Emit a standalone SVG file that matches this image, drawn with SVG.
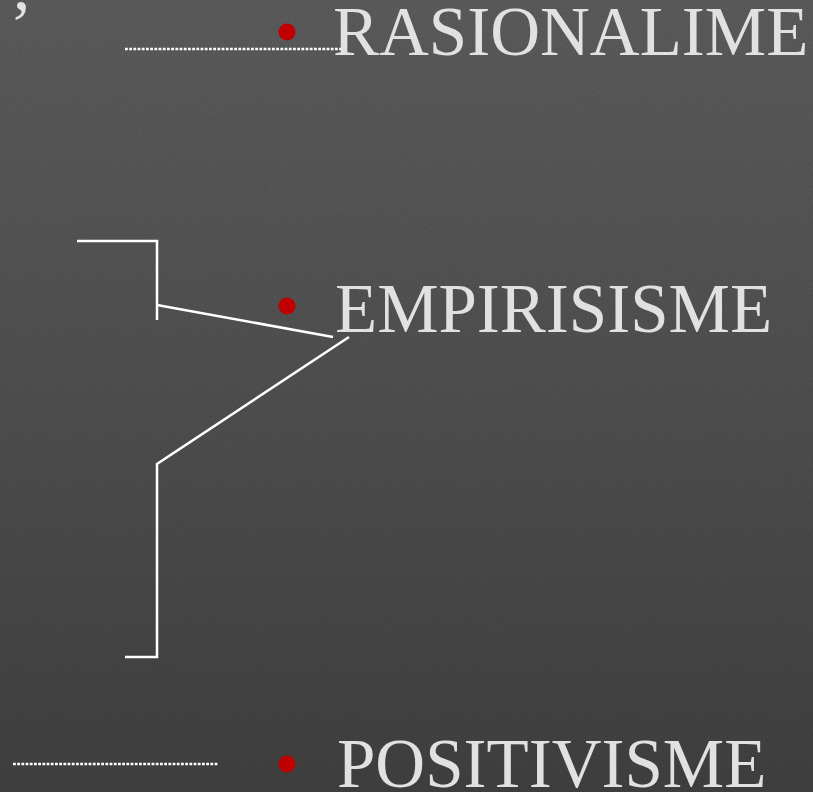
<svg xmlns="http://www.w3.org/2000/svg" width="813" height="792" viewBox="0 0 813 792">
  <defs>
    <linearGradient id="bg" x1="0" y1="0" x2="0" y2="1">
      <stop offset="0" stop-color="#5f5f5f"/>
      <stop offset="0.5" stop-color="#525252"/>
      <stop offset="1" stop-color="#424242"/>
    </linearGradient>
    <filter id="grain" x="0" y="0" width="100%" height="100%">
      <feTurbulence type="fractalNoise" baseFrequency="0.9 0.5" numOctaves="2" seed="3" result="n"/>
      <feColorMatrix in="n" type="matrix" values="0 0 0 0 0  0 0 0 0 0  0 0 0 0 0  0 0 0 0.14 0"/>
    </filter>
    <style>
      .label { font-family: "Liberation Serif", "Times New Roman", serif; font-size: 69px; fill: #e1e1e3; }
      .bullet { fill: #c00000; }
      .dotted { stroke: #ffffff; stroke-width: 2.5; stroke-dasharray: 2.8 1.4; fill: none; }
      .conn { stroke: #ffffff; stroke-width: 2.5; fill: none; stroke-linejoin: miter; }
    </style>
  </defs>

  <!-- background -->
  <rect width="813" height="792" fill="url(#bg)"/>
  <rect width="813" height="792" filter="url(#grain)"/>

  <text class="label" x="13" y="9">,</text>

  <!-- dotted leader lines -->
  <g id="leaders">
    <line class="dotted" x1="125" y1="49" x2="346" y2="49"/>
    <line class="dotted" x1="13" y1="764" x2="218" y2="764"/>
  </g>

  <g id="rasionalime">
    <circle class="bullet" cx="287" cy="32" r="8.5"/>
    <text class="label" x="333" y="55">RASIONALIME</text>
  </g>

  <g id="empirisisme">
    <circle class="bullet" cx="287" cy="306" r="8.5"/>
    <text class="label" x="335" y="332">EMPIRISISME</text>
  </g>

  <g id="positivisme">
    <circle class="bullet" cx="287" cy="764" r="8.5"/>
    <text class="label" x="337" y="787">POSITIVISME</text>
  </g>

  <!-- bracket connectors -->
  <g id="connectors">
    <polyline class="conn" points="77,241 157,241 157,320"/>
    <line class="conn" x1="157" y1="305" x2="333" y2="337"/>
    <polyline class="conn" points="349,337 157,464 157,657 125,657"/>
  </g>
</svg>
